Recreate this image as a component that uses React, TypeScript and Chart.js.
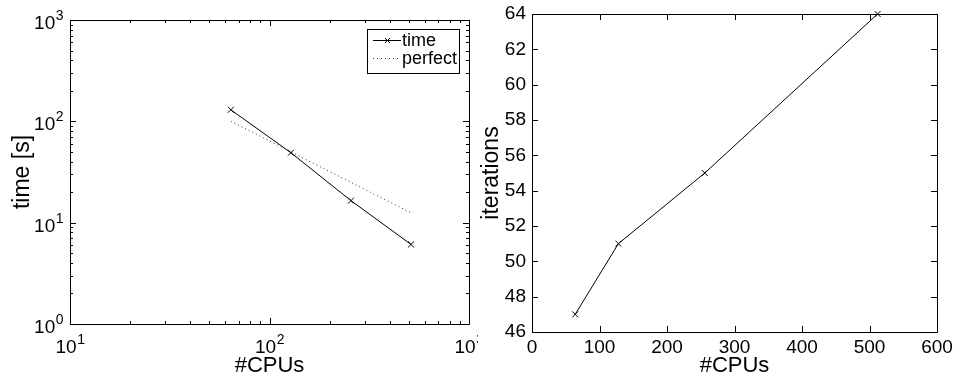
import React, { useEffect, useRef } from "react";
import { Chart, registerables } from "chart.js";

Chart.register(...registerables);

const CPUS = [64, 128, 256, 512];
const TIME = [130, 49, 16.5, 6.1];
const PERFECT = [100, 50, 25, 12.5];
const ITERATIONS = [47, 51, 55, 64];
const LOG_X_TICKS = [10, 100, 1000];
const LOG_Y_TICKS = [1, 10, 100, 1000];
const LIN_X_TICKS = [0, 100, 200, 300, 400, 500, 600];
const LIN_Y_TICKS = [46, 48, 50, 52, 54, 56, 58, 60, 62, 64];

const FONT = "'Liberation Sans', Arial, Helvetica, sans-serif";
const TICK_SIZE = 19;
const EXP_SIZE = 14;
const TITLE_SIZE = 22;

function boxTicks(majorLen: number, minorLen: number) {
  return {
    id: "boxTicks",
    afterDraw(chart: any) {
      const ctx = chart.ctx;
      const a = chart.chartArea;
      ctx.save();
      ctx.strokeStyle = "#000";
      ctx.lineWidth = 1;
      ctx.beginPath();
      ctx.rect(Math.round(a.left) + 0.5, Math.round(a.top) + 0.5, Math.round(a.right - a.left), Math.round(a.bottom - a.top));
      ctx.stroke();
      const drawX = (v: number, len: number) => {
        const x = Math.round(chart.scales.x.getPixelForValue(v)) + 0.5;
        ctx.beginPath();
        ctx.moveTo(x, a.bottom);
        ctx.lineTo(x, a.bottom - len);
        ctx.moveTo(x, a.top);
        ctx.lineTo(x, a.top + len);
        ctx.stroke();
      };
      const drawY = (v: number, len: number) => {
        const y = Math.round(chart.scales.y.getPixelForValue(v)) + 0.5;
        ctx.beginPath();
        ctx.moveTo(a.left, y);
        ctx.lineTo(a.left + len, y);
        ctx.moveTo(a.right, y);
        ctx.lineTo(a.right - len, y);
        ctx.stroke();
      };
      const doScale = (sc: any, fn: (v: number, l: number) => void) => {
        const ticks = sc.ticks.map((t: any) => t.value);
        ticks.forEach((v: number) => fn(v, majorLen));
        if (sc.type === "logarithmic") {
          for (let i = 0; i < ticks.length - 1; i++) {
            for (let m = 2; m <= 9; m++) fn(ticks[i] * m, minorLen);
          }
        }
      };
      doScale(chart.scales.x, drawX);
      doScale(chart.scales.y, drawY);
      ctx.restore();
    },
  };
}

// Power-of-ten tick labels with a real superscript exponent
const powLabels = {
  id: "powLabels",
  afterDraw(chart: any) {
    const ctx = chart.ctx;
    const a = chart.chartArea;
    ctx.save();
    ctx.fillStyle = "#000";
    ctx.textBaseline = "alphabetic";
    ctx.textAlign = "left";
    const measure = (v: number) => {
      const exp = String(Math.round(Math.log10(v)));
      ctx.font = `${TICK_SIZE}px ${FONT}`;
      const wb = ctx.measureText("10").width;
      ctx.font = `${EXP_SIZE}px ${FONT}`;
      const we = ctx.measureText(exp).width;
      return { exp, wb, we };
    };
    const draw = (v: number, x: number, baseline: number) => {
      const { exp, wb } = measure(v);
      ctx.font = `${TICK_SIZE}px ${FONT}`;
      ctx.fillText("10", x, baseline);
      ctx.font = `${EXP_SIZE}px ${FONT}`;
      ctx.fillText(exp, x + wb + 0.5, baseline - 9);
    };
    chart.scales.x.ticks.forEach((t: any) => {
      const px = chart.scales.x.getPixelForValue(t.value);
      const { wb, we } = measure(t.value);
      draw(t.value, px - (wb + we) / 2, a.bottom + 29);
    });
    chart.scales.y.ticks.forEach((t: any) => {
      const py = chart.scales.y.getPixelForValue(t.value);
      const { wb, we } = measure(t.value);
      draw(t.value, a.left - 7 - wb - we, py + 9);
    });
    ctx.restore();
  },
};

const legendPlugin = {
  id: "boxLegend",
  afterDraw(chart: any) {
    const ctx = chart.ctx;
    const a = chart.chartArea;
    const w = 92, h = 44;
    const x0 = Math.round(a.right) - 102, y0 = Math.round(a.top) + 9;
    ctx.save();
    ctx.fillStyle = "#fff";
    ctx.fillRect(x0, y0, w, h);
    ctx.strokeStyle = "#000";
    ctx.lineWidth = 1;
    ctx.strokeRect(x0 + 0.5, y0 + 0.5, w, h);
    ctx.font = `18px ${FONT}`;
    ctx.textBaseline = "middle";
    ctx.fillStyle = "#000";
    chart.data.datasets.forEach((ds: any, i: number) => {
      const cy = y0 + 11 + i * 18;
      ctx.beginPath();
      ctx.strokeStyle = ds.borderColor;
      ctx.setLineDash(ds.borderDash || []);
      ctx.moveTo(x0 + 6, cy + 0.5);
      ctx.lineTo(x0 + 34, cy + 0.5);
      ctx.stroke();
      ctx.setLineDash([]);
      if (ds.pointRadius > 0) {
        const cx = x0 + 20.5;
        const r = 2.5;
        ctx.beginPath();
        ctx.moveTo(cx - r, cy + 0.5 - r);
        ctx.lineTo(cx + r, cy + 0.5 + r);
        ctx.moveTo(cx - r, cy + 0.5 + r);
        ctx.lineTo(cx + r, cy + 0.5 - r);
        ctx.stroke();
      }
      ctx.fillText(ds.label, x0 + 35, cy + 1);
    });
    ctx.restore();
  },
};

function fixSize(size: number, horizontal: boolean) {
  return (sc: any) => {
    if (horizontal) sc.height = size;
    else sc.width = size;
    sc.paddingLeft = 0;
    sc.paddingRight = 0;
    sc.paddingTop = 0;
    sc.paddingBottom = 0;
  };
}

export default function App() {
  const leftRef = useRef<HTMLCanvasElement>(null);
  const rightRef = useRef<HTMLCanvasElement>(null);

  useEffect(() => {
    document.body.style.margin = "0";
    Chart.defaults.font.family = FONT;
    Chart.defaults.color = "#000";

    const left = new Chart(leftRef.current!, {
      type: "line",
      data: {
        datasets: [
          {
            label: "time",
            data: CPUS.map((c, i) => ({ x: c, y: TIME[i] })),
            borderColor: "#000",
            borderWidth: 1,
            pointStyle: "crossRot",
            pointRadius: 4.2,
            pointBorderColor: "#000",
            pointBorderWidth: 1,
            fill: false,
            clip: false,
          },
          {
            label: "perfect",
            data: CPUS.map((c, i) => ({ x: c, y: PERFECT[i] })),
            borderColor: "#333",
            borderWidth: 1,
            borderDash: [1, 3],
            pointRadius: 0,
            fill: false,
          },
        ],
      },
      options: {
        animation: false,
        responsive: false,
        layout: { padding: { top: 20, right: 9, left: 0, bottom: 0 } },
        plugins: { legend: { display: false }, tooltip: { enabled: false } },
        scales: {
          x: {
            type: "logarithmic",
            min: 10,
            max: 1000,
            afterBuildTicks: (sc: any) => { sc.ticks = LOG_X_TICKS.map((v) => ({ value: v })); },
            afterFit: fixSize(55, true),
            grid: { display: false, drawTicks: false },
            border: { display: false },
            ticks: { display: false },
            title: { display: true, text: "#CPUs", font: { size: TITLE_SIZE }, padding: { top: 0, bottom: 0 } },
          },
          y: {
            type: "logarithmic",
            min: 1,
            max: 1000,
            afterBuildTicks: (sc: any) => { sc.ticks = LOG_Y_TICKS.map((v) => ({ value: v })); },
            afterFit: fixSize(70, false),
            grid: { display: false, drawTicks: false },
            border: { display: false },
            ticks: { display: false },
            title: { display: true, text: "time [s]", font: { size: TITLE_SIZE + 1 }, padding: { top: 9, bottom: 0 } },
          },
        },
      },
      plugins: [boxTicks(6, 3), powLabels, legendPlugin],
    } as any);

    const right = new Chart(rightRef.current!, {
      type: "line",
      data: {
        datasets: [
          {
            label: "iterations",
            data: CPUS.map((c, i) => ({ x: c, y: ITERATIONS[i] })),
            borderColor: "#000",
            borderWidth: 1,
            pointStyle: "crossRot",
            pointRadius: 4.2,
            pointBorderColor: "#000",
            pointBorderWidth: 1,
            fill: false,
            clip: false,
          },
        ],
      },
      options: {
        animation: false,
        responsive: false,
        layout: { padding: { top: 14, right: 19, left: 0, bottom: 0 } },
        plugins: { legend: { display: false }, tooltip: { enabled: false } },
        scales: {
          x: {
            type: "linear",
            min: 0,
            max: 600,
            afterBuildTicks: (sc: any) => { sc.ticks = LIN_X_TICKS.map((v) => ({ value: v })); },
            afterFit: fixSize(47, true),
            grid: { display: false, drawTicks: false },
            border: { display: false },
            ticks: { font: { size: TICK_SIZE }, padding: 4, maxRotation: 0, autoSkip: false },
            title: { display: true, text: "#CPUs", font: { size: TITLE_SIZE }, padding: { top: 0, bottom: 0 } },
          },
          y: {
            type: "linear",
            min: 46,
            max: 64,
            afterBuildTicks: (sc: any) => { sc.ticks = LIN_Y_TICKS.map((v) => ({ value: v })); },
            afterFit: fixSize(54, false),
            grid: { display: false, drawTicks: false },
            border: { display: false },
            ticks: { font: { size: TICK_SIZE }, padding: 6, autoSkip: false },
            title: { display: true, text: "iterations", font: { size: TITLE_SIZE + 1 }, padding: { top: 0, bottom: 0 } },
          },
        },
      },
      plugins: [boxTicks(6, 3)],
    } as any);

    return () => {
      left.destroy();
      right.destroy();
    };
  }, []);

  return (
    <div style={{ position: "relative", width: 956, height: 379, background: "#fff", overflow: "hidden" }}>
      <canvas ref={leftRef} width={478} height={379} style={{ position: "absolute", left: 0, top: 0 }} />
      <canvas ref={rightRef} width={478} height={379} style={{ position: "absolute", left: 478, top: 0 }} />
    </div>
  );
}
